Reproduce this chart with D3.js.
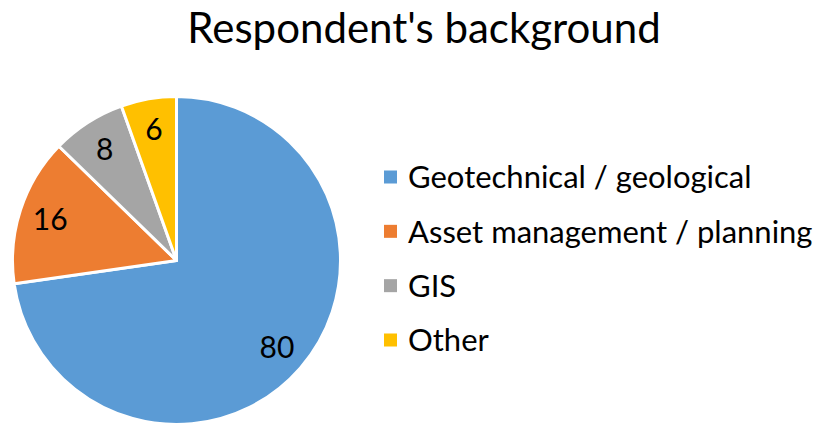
<!DOCTYPE html>
<html>
<head>
<meta charset="utf-8">
<script src="https://cdn.jsdelivr.net/npm/d3@7"></script>
<style>
  body { margin: 0; background: #fff; }
  text { font-family: Lato, "Open Sans", sans-serif; fill: #000; }
</style>
</head>
<body>
<div id="chart"></div>
<script>
// data
const categories = ["Geotechnical / geological", "Asset management / planning", "GIS", "Other"];
const counts = [80, 16, 8, 6];
const colours = ["#5B9BD5", "#ED7D31", "#A5A5A5", "#FFC000"];

const width = 824, height = 426;
const cx = 176.5, cy = 260.5, radius = 164;

const svg = d3.select("#chart")
  .append("svg")
  .attr("width", width)
  .attr("height", height);

// title
svg.append("text")
  .attr("x", 424)
  .attr("y", 43)
  .attr("text-anchor", "middle")
  .style("font-size", "42px")
  .text("Respondent's background");

const data = categories.map((c, i) => ({ name: c, value: counts[i] }));

const pie = d3.pie()
  .value(d => d.value)
  .sort(null);

const arc = d3.arc()
  .innerRadius(0)
  .outerRadius(radius);

const labelArc = d3.arc()
  .innerRadius(radius * 0.81)
  .outerRadius(radius * 0.81);

const colour = d3.scaleOrdinal()
  .domain(categories)
  .range(colours);

const g = svg.append("g")
  .attr("transform", `translate(${cx}, ${cy})`);

g.selectAll("path")
  .data(pie(data))
  .join("path")
    .attr("d", arc)
    .attr("fill", d => colour(d.data.name))
    .attr("stroke", "#fff")
    .attr("stroke-width", 3)
    .attr("stroke-linejoin", "round");

g.selectAll("text.lbl")
  .data(pie(data))
  .join("text")
    .attr("class", "lbl")
    .attr("transform", d => `translate(${labelArc.centroid(d)})`)
    .attr("text-anchor", "middle")
    .attr("dy", "0.36em")
    .style("font-size", "30px")
    .text(d => d.data.value);

// legend
const legendY = d3.scalePoint()
  .domain(categories)
  .range([177, 340]);

const legend = svg.append("g")
  .selectAll("g")
  .data(categories)
  .join("g")
    .attr("transform", d => `translate(384, ${legendY(d)})`);

legend.append("rect")
  .attr("x", 0)
  .attr("y", -6.5)
  .attr("width", 13)
  .attr("height", 13)
  .attr("fill", d => colour(d));

legend.append("text")
  .attr("x", 24)
  .attr("dy", "0.36em")
  .style("font-size", "31px")
  .text(d => d);
</script>
</body>
</html>
